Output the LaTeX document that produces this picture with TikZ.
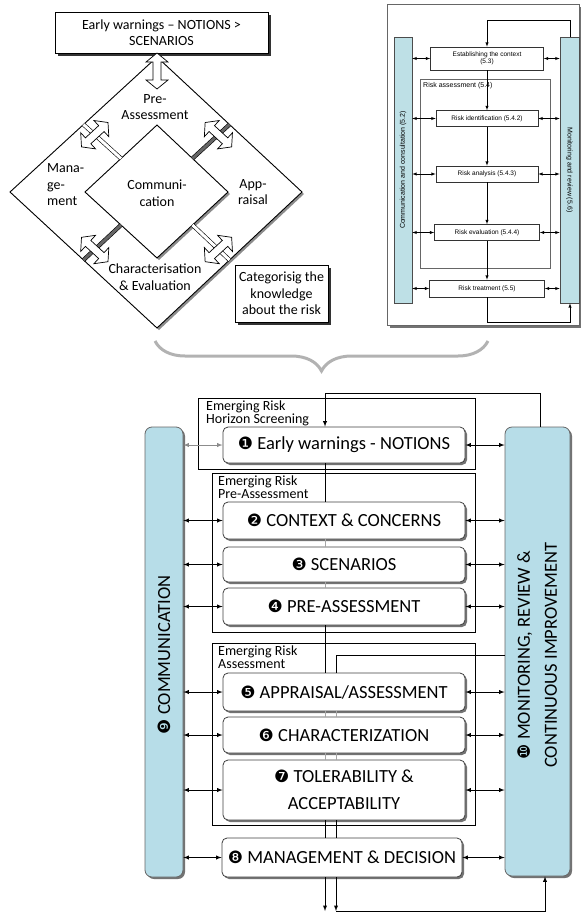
\documentclass[tikz,border=0pt]{standalone}
\usepackage{fontspec}
\setmainfont{Carlito}
\newfontfamily\dingfont{DejaVu Sans}
\newfontfamily\isofont{Liberation Sans}
\usepackage{xcolor}
\usetikzlibrary{calc}
\usetikzlibrary{arrows}
\usetikzlibrary{shadows}
\usetikzlibrary{decorations.pathreplacing}
\definecolor{barblue}{RGB}{183,221,232}
\definecolor{isoblue}{RGB}{190,224,230}
\newcommand{\stepno}[1]{{\dingfont\fontsize{17}{17}\selectfont #1}}

\begin{document}
\begin{tikzpicture}[x=1pt,y=-1pt,
  sketchline/.style={draw=black,line width=0.9pt,fill=white,
    drop shadow={shadow xshift=2pt,shadow yshift=-2pt,fill=black!45,opacity=1}},
  sketchbox/.style={draw=black,line width=0.9pt,fill=white,align=center,inner sep=1pt,
    font=\fontsize{14}{16.5}\selectfont,
    drop shadow={shadow xshift=3pt,shadow yshift=-3pt,fill=black!80,opacity=1}},
  sketchtext/.style={align=center,inner sep=0pt,font=\fontsize{14}{16.5}\selectfont},
  stem/.style={draw=black,line width=0.6pt,double=white,double distance=3pt},
  darkstem/.style={stem,double=black!60},
  blockarrow/.pic={
    \draw[line width=0.7pt,fill=white] (-18,0) -- (-9,11) -- (-9,4) -- (9,4) -- (9,11)
      -- (18,0) -- (9,-11) -- (9,-4) -- (-9,-4) -- (-9,-11) -- cycle;},
  isobox/.style={draw=black!80,line width=0.6pt,fill=white,align=center,inner sep=1pt,
    font=\isofont\fontsize{6.5}{7.5}\selectfont},
  isobar/.style={draw=black!70,line width=0.6pt,fill=isoblue},
  isotext/.style={font=\isofont\fontsize{7}{8}\selectfont,inner sep=0pt},
  isoflow/.style={line width=0.5pt},
  stepbox/.style={draw=black!75,line width=0.8pt,fill=white,rounded corners=5pt,
    minimum width=242pt,minimum height=36pt,align=center,inner sep=1pt,
    font=\fontsize{18.5}{27}\selectfont,
    drop shadow={shadow xshift=2pt,shadow yshift=-2pt,fill=black!55,opacity=1}},
  bar/.style={draw=black!60,line width=0.8pt,fill=barblue,rounded corners=7pt,
    drop shadow={shadow xshift=2pt,shadow yshift=-2pt,fill=black!55,opacity=1}},
  bartext/.style={align=center,inner sep=0pt,font=\fontsize{18.5}{27}\selectfont},
  phase/.style={draw=black,line width=0.9pt},
  phaselabel/.style={anchor=north west,align=left,inner sep=0pt,
    font=\fontsize{14}{13}\selectfont},
  link/.style={latex-latex,line width=0.9pt},
  flow/.style={line width=0.9pt},
  softflow/.style={line width=0.9pt,draw=black!35}]
  \useasboundingbox (0,0) rectangle (581,913);

  % Left sketch: the governance diamond
  \coordinate (OT) at (157,57);
  \coordinate (OR) at (302,192);
  \coordinate (OB) at (157,328);
  \coordinate (OL) at (10,192);
  \coordinate (IT) at (157,125);
  \coordinate (IR) at (228,192);
  \coordinate (IB) at (157,258);
  \coordinate (IL) at (85,192);
  \draw[sketchline] (OT) -- (OR) -- (OB) -- (OL) -- cycle;
  \draw[sketchline] (IT) -- (IR) -- (IB) -- (IL) -- cycle;

  \node[sketchbox,minimum width=213pt,minimum height=41pt] (warn) at (161.5,32.5) {Early warnings – NOTIONS \textgreater\\SCENARIOS};
  \pic[rotate=90] (warnArrow) at (157,71) {blockarrow};

  % Stems between the two diamonds
  \coordinate (ulIn) at ($(IT)!0.5!(IL)$);
  \coordinate (ulOut) at ($(OT)!0.5!(OL)$);
  \coordinate (urIn) at ($(IT)!0.5!(IR)$);
  \coordinate (urOut) at ($(OT)!0.5!(OR)$);
  \coordinate (llIn) at ($(IB)!0.5!(IL)$);
  \coordinate (llOut) at ($(OB)!0.5!(OL)$);
  \coordinate (lrIn) at ($(IB)!0.5!(IR)$);
  \coordinate (lrOut) at ($(OB)!0.5!(OR)$);
  \draw[stem] (ulIn) -- (ulOut);
  \draw[darkstem] (urIn) -- (urOut);
  \draw[darkstem] (llIn) -- (llOut);
  \draw[stem] (lrIn) -- (lrOut);
  \pic[rotate=42.6] (ulArrow) at ($(ulIn)!0.7!(ulOut)$) {blockarrow};
  \pic[rotate=-42.6] (urArrow) at ($(urIn)!0.7!(urOut)$) {blockarrow};
  \pic[rotate=-42.6] (llArrow) at ($(llIn)!0.7!(llOut)$) {blockarrow};
  \pic[rotate=42.6] (lrArrow) at ($(lrIn)!0.7!(lrOut)$) {blockarrow};

  \node[sketchtext] (preLbl) at (155,107) {Pre-\\Assessment};
  \node[sketchtext,anchor=west,align=left] (mgmtLbl) at (47,185) {Mana-\\ge-\\ment};
  \node[sketchtext] (commLbl) at (157,193) {Communi-\\cation};
  \node[sketchtext] (apprLbl) at (253,192) {App-\\raisal};
  \node[sketchtext] (charLbl) at (155,277) {Characterisation\\\& Evaluation};
  \node[sketchbox,minimum width=93pt,minimum height=57pt] (categ) at (281.5,293.5) {Categorisig the\\knowledge\\about the risk};

  % Right sketch: the ISO process
  \draw[draw=black!60,line width=0.8pt,fill=white,
    drop shadow={shadow xshift=3pt,shadow yshift=-3pt,fill=black!55,opacity=1}] (387,4) rectangle (579,325);
  \draw[draw=black!60,line width=0.6pt] (420,79) rectangle (550,268);
  \node[isotext,anchor=north west] (isoAssLbl) at (423,82) {Risk  assessment (5.4)};
  \node[isobar,minimum width=18pt,minimum height=266pt] (isoComm) at (403,170) {};
  \node[isotext,rotate=90] (isoCommTxt) at (isoComm.center) {Communication and consultation (5.2)};
  \node[isobar,minimum width=19pt,minimum height=266pt] (isoMon) at (569.5,170) {};
  \node[isotext,rotate=-90] (isoMonTxt) at (isoMon.center) {Monitoring and review (5.6)};
  \node[isobox,minimum width=113pt,minimum height=23pt] (isoCtx) at (487,58.5) {Establishing the context\\(5.3)};
  \node[isobox,minimum width=102pt,minimum height=16pt] (isoId) at (487,118.5) {Risk identification (5.4.2)};
  \node[isobox,minimum width=102pt,minimum height=16pt] (isoAn) at (487,174) {Risk analysis (5.4.3)};
  \node[isobox,minimum width=105pt,minimum height=16pt] (isoEv) at (487,232.5) {Risk evaluation (5.4.4)};
  \node[isobox,minimum width=115pt,minimum height=17pt] (isoTr) at (487,288.5) {Risk treatment (5.5)};
  \draw[isoflow,-latex] (isoCtx.south) -- (isoId.north);
  \draw[isoflow,-latex] (isoId.south) -- (isoAn.north);
  \draw[isoflow,-latex] (isoAn.south) -- (isoEv.north);
  \draw[isoflow,-latex] (isoEv.south) -- (isoTr.north);
  \coordinate (isoTopLoop) at (570,20);
  \coordinate (isoBotLoop) at (570,322);
  \draw[isoflow,-latex] (isoTopLoop |- isoMon.north) -- (isoTopLoop) -- (isoCtx.north |- isoTopLoop) -- (isoCtx.north);
  \draw[isoflow,-latex] (isoTr.south) -- (isoTr.south |- isoBotLoop) -- (isoBotLoop) -- (isoBotLoop |- isoMon.south);
  \draw[isoflow,latex-latex] (isoComm.east |- isoCtx) -- (isoCtx.west);
  \draw[isoflow,latex-latex] (isoCtx.east) -- (isoCtx.east -| isoMon.west);
  \draw[isoflow,latex-latex] (isoComm.east |- isoId) -- (isoId.west);
  \draw[isoflow,latex-latex] (isoId.east) -- (isoId.east -| isoMon.west);
  \draw[isoflow,latex-latex] (isoComm.east |- isoAn) -- (isoAn.west);
  \draw[isoflow,latex-latex] (isoAn.east) -- (isoAn.east -| isoMon.west);
  \draw[isoflow,latex-latex] (isoComm.east |- isoEv) -- (isoEv.west);
  \draw[isoflow,latex-latex] (isoEv.east) -- (isoEv.east -| isoMon.west);
  \draw[isoflow,latex-latex] (isoComm.east |- isoTr) -- (isoTr.west);
  \draw[isoflow,latex-latex] (isoTr.east) -- (isoTr.east -| isoMon.west);

  % Brace joining both sketches
  \draw[gray!60,line width=3pt,decorate,decoration={brace,mirror,amplitude=30pt}] (155,341) -- (488,341);

  % Phases
  \draw[phase] (198,398) rectangle (475,469);
  \draw[phase] (212,473) rectangle (475,632);
  \draw[phase] (212,643) rectangle (475,825);
  \node[phaselabel] (horizonLbl) at (206,401) {Emerging Risk\\Horizon Screening};
  \node[phaselabel] (preassLbl) at (218,476) {Emerging Risk\\Pre-Assessment};
  \node[phaselabel] (assessLbl) at (218,646) {Emerging Risk\\Assessment};

  % Side bars
  \node[bar,minimum width=38pt,minimum height=450pt] (commbar) at (164,652) {};
  \node[bartext,rotate=90] (commTxt) at (164,655) {\stepno{❾} COMMUNICATION};
  \node[bar,minimum width=65pt,minimum height=449pt] (monbar) at (537.5,651.5) {};
  \node[bartext,rotate=90] (monTxt) at (537,655) {\stepno{❿} MONITORING, REVIEW \&\\CONTINUOUS IMPROVEMENT};

  % Vertical flow lines
  \coordinate (spineA) at (325,0);
  \coordinate (spineB) at (336,0);
  \coordinate (loopTop) at (540,393);
  \coordinate (loopMid) at (336,655);
  \coordinate (loopBot) at (545,911);

  % Steps
  \node[stepbox] (early) at (344,445) {\stepno{❶} Early warnings - NOTIONS};
  \node[stepbox,minimum height=37pt] (context) at (344,520.5) {\stepno{❷} CONTEXT \& CONCERNS};
  \node[stepbox,minimum height=35pt] (scen) at (344,564.5) {\stepno{❸} SCENARIOS};
  \node[stepbox,minimum height=37pt] (preass) at (344,606.5) {\stepno{❹} PRE-ASSESSMENT};
  \node[stepbox,minimum height=38pt] (apprais) at (344,692) {\stepno{❺} APPRAISAL/ASSESSMENT};
  \node[stepbox] (charact) at (344,735) {\stepno{❻} CHARACTERIZATION};
  \node[stepbox,minimum height=60pt] (toler) at (344,790) {\stepno{❼} TOLERABILITY \&\\ACCEPTABILITY};
  \node[stepbox,minimum width=240pt,minimum height=39pt] (manage) at (342,857.5) {\stepno{❽} MANAGEMENT \& DECISION};

  \draw[flow,-latex] (loopTop |- monbar.north) -- (loopTop) -- (spineA |- loopTop) -- (spineA |- early.north);
  \draw[flow] (spineA |- early.south) -- (spineA |- context.north);
  \draw[softflow] (spineA |- context.south) -- (spineA |- scen.north);
  \draw[softflow] (spineA |- scen.south) -- (spineA |- preass.north);
  \draw[flow] (spineA |- preass.south) -- (spineA |- apprais.north);
  \draw[flow] (monbar.west |- loopMid) -- (loopMid) -- (loopMid |- apprais.north);
  \draw[softflow] (spineA |- apprais.south) -- (spineA |- charact.north);
  \draw[softflow] (spineB |- apprais.south) -- (spineB |- charact.north);
  \draw[softflow] (spineA |- charact.south) -- (spineA |- toler.north);
  \draw[softflow] (spineB |- charact.south) -- (spineB |- toler.north);
  \draw[flow] (spineA |- toler.south) -- (spineA |- manage.north);
  \draw[flow] (spineB |- toler.south) -- (spineB |- manage.north);
  \draw[flow,-latex] (spineA |- manage.south) -- (spineA |- loopBot);
  \draw[flow,-latex] (spineB |- manage.south) -- (spineB |- loopBot);
  \draw[flow,-latex] (spineB |- loopBot) -- (loopBot) -- (loopBot |- monbar.south);

  % Links to communication and monitoring
  \draw[link,draw=black!45] (commbar.east |- early) -- (early.west);
  \draw[link] (early.east) -- (early.east -| monbar.west);
  \draw[link] (commbar.east |- context) -- (context.west);
  \draw[link] (context.east) -- (context.east -| monbar.west);
  \draw[link] (commbar.east |- scen) -- (scen.west);
  \draw[link] (scen.east) -- (scen.east -| monbar.west);
  \draw[link] (commbar.east |- preass) -- (preass.west);
  \draw[link] (preass.east) -- (preass.east -| monbar.west);
  \draw[link] (commbar.east |- apprais) -- (apprais.west);
  \draw[link] (apprais.east) -- (apprais.east -| monbar.west);
  \draw[link] (commbar.east |- charact) -- (charact.west);
  \draw[link] (charact.east) -- (charact.east -| monbar.west);
  \draw[link] (commbar.east |- toler) -- (toler.west);
  \draw[link] (toler.east) -- (toler.east -| monbar.west);
  \draw[link] (commbar.east |- manage) -- (manage.west);
  \draw[link] (manage.east) -- (manage.east -| monbar.west);
\end{tikzpicture}
\end{document}
